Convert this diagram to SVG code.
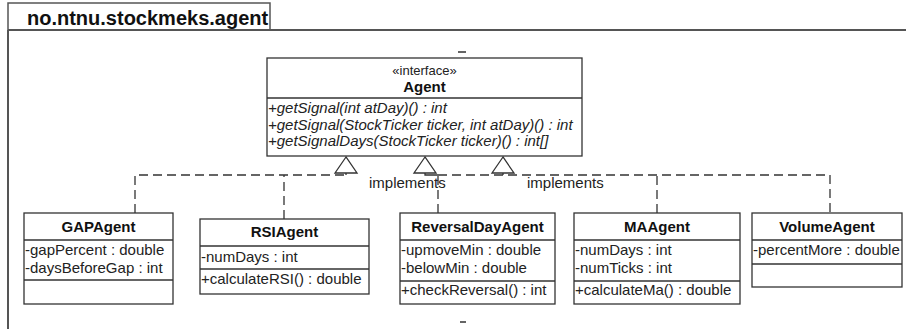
<svg xmlns="http://www.w3.org/2000/svg" width="906" height="329" viewBox="0 0 906 329">
  <style>
    .box { fill: #ffffff; stroke: #333333; stroke-width: 1.3; }
    .sep { stroke: #333333; stroke-width: 1.3; }
    .t { font-family: "Liberation Sans", Arial, sans-serif; font-size: 15px; fill: #222222; }
    .b { font-weight: bold; fill: #111111; }
    .i { font-style: italic; }
    .c { text-anchor: middle; }
    .dash { fill: none; stroke: #333333; stroke-width: 1.3; stroke-dasharray: 9 5; }
    .solid { fill: none; stroke: #333333; stroke-width: 1.3; }
    .tri { fill: #ffffff; stroke: #333333; stroke-width: 1.3; }
  </style>

  <rect width="906" height="329" fill="#ffffff"/>

  <!-- package frame -->
  <g id="package">
    <rect x="8" y="3" width="262" height="27" fill="#ffffff" stroke="#555555" stroke-width="1.5"/>
    <path d="M8,30 H906 M8,30 V329" fill="none" stroke="#555555" stroke-width="2"/>
    <text x="27" y="25" class="t b" style="font-size:20px">no.ntnu.stockmeks.agent</text>
    <path d="M458,52 H466 M460,322 H466" stroke="#333333" stroke-width="1.3"/>
  </g>

  <!-- connectors -->
  <g id="connectors">
    <path class="dash" d="M135,213 V175 H346"/>
    <path class="dash" d="M284,219 V175"/>
    <path class="dash" d="M438,213 V175"/>
    <path class="solid" d="M346,175 V173 M425,173 V175 H438"/>
    <path class="dash" d="M438,175 H830 V213"/>
    <path class="dash" d="M657,213 V175"/>
    <path class="solid" d="M503,173 V175"/>
    <polygon class="tri" points="346,157 335,173 357,173"/>
    <polygon class="tri" points="425,157 414,173 436,173"/>
    <polygon class="tri" points="503,157 492,173 514,173"/>
    <text x="369" y="188" class="t">implements</text>
    <text x="527" y="188" class="t">implements</text>
  </g>

  <!-- interface Agent -->
  <g id="Agent">
    <rect class="box" x="267" y="58" width="315" height="98"/>
    <line class="sep" x1="267" y1="98" x2="582" y2="98"/>
    <text x="424.5" y="75" class="t c" style="font-size:13px">«interface»</text>
    <text x="424.5" y="92" class="t b c">Agent</text>
    <text x="268" y="113" class="t i">+getSignal(int atDay)() : int</text>
    <text x="268" y="130" class="t i">+getSignal(StockTicker ticker, int atDay)() : int</text>
    <text x="268" y="146" class="t i">+getSignalDays(StockTicker ticker)() : int[]</text>
  </g>

  <g id="GAPAgent">
    <rect class="box" x="24" y="213" width="149" height="91"/>
    <line class="sep" x1="24" y1="240" x2="173" y2="240"/>
    <line class="sep" x1="24" y1="280" x2="173" y2="280"/>
    <text x="98.5" y="232" class="t b c">GAPAgent</text>
    <text x="25" y="255" class="t">-gapPercent : double</text>
    <text x="25" y="273" class="t">-daysBeforeGap : int</text>
  </g>

  <g id="RSIAgent">
    <rect class="box" x="200" y="219" width="169" height="75"/>
    <line class="sep" x1="200" y1="246" x2="369" y2="246"/>
    <line class="sep" x1="200" y1="269" x2="369" y2="269"/>
    <text x="284.5" y="237" class="t b c">RSIAgent</text>
    <text x="201" y="262" class="t">-numDays : int</text>
    <text x="201" y="284" class="t">+calculateRSI() : double</text>
  </g>

  <g id="ReversalDayAgent">
    <rect class="box" x="400" y="213" width="155" height="91"/>
    <line class="sep" x1="400" y1="240" x2="555" y2="240"/>
    <line class="sep" x1="400" y1="281" x2="555" y2="281"/>
    <text x="477.5" y="232" class="t b c">ReversalDayAgent</text>
    <text x="401" y="255" class="t">-upmoveMin : double</text>
    <text x="401" y="273" class="t">-belowMin : double</text>
    <text x="401" y="295" class="t">+checkReversal() : int</text>
  </g>

  <g id="MAAgent">
    <rect class="box" x="574" y="213" width="166" height="91"/>
    <line class="sep" x1="574" y1="240" x2="740" y2="240"/>
    <line class="sep" x1="574" y1="281" x2="740" y2="281"/>
    <text x="657" y="232" class="t b c">MAAgent</text>
    <text x="575" y="255" class="t">-numDays : int</text>
    <text x="575" y="273" class="t">-numTicks : int</text>
    <text x="575" y="295" class="t">+calculateMa() : double</text>
  </g>

  <g id="VolumeAgent">
    <rect class="box" x="752" y="213" width="150" height="74"/>
    <line class="sep" x1="752" y1="240" x2="902" y2="240"/>
    <line class="sep" x1="752" y1="264" x2="902" y2="264"/>
    <text x="827" y="232" class="t b c">VolumeAgent</text>
    <text x="753" y="255" class="t">-percentMore : double</text>
  </g>
</svg>
